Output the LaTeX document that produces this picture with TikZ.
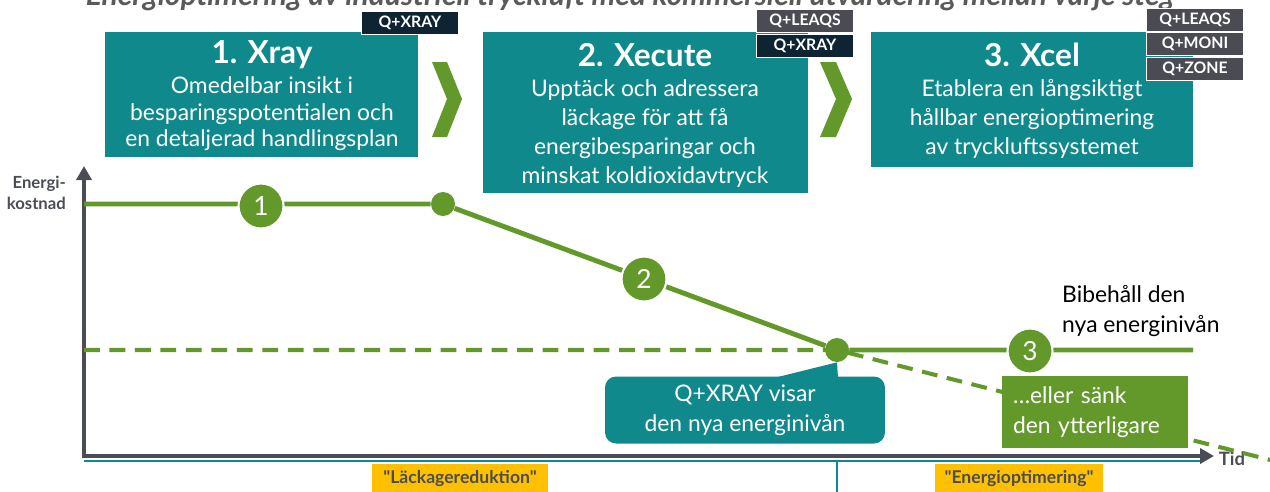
\documentclass[tikz,border=0pt]{standalone}
\usepackage{fontspec}
\setmainfont{Lato}[Ligatures=TeXOff]
\usetikzlibrary{arrows.meta,calc,positioning}

\definecolor{xteal}{HTML}{0F898C}
\definecolor{xgreen}{HTML}{63982A}
\definecolor{xnavy}{HTML}{0E2433}
\definecolor{xgray}{HTML}{4B4B53}
\definecolor{xaxis}{HTML}{4A4D55}
\definecolor{xyellow}{HTML}{FFC000}
\definecolor{xtitle}{HTML}{5A5A5A}

\begin{document}
\begin{tikzpicture}[x=0.02cm, y=-0.02cm,
  stepbox/.style={fill=xteal, anchor=north west, inner sep=0pt},
  head/.style={text=white, font=\fontsize{18}{21}\selectfont\bfseries},
  body/.style={text=white, align=center, font=\fontsize{13}{16.5}\selectfont},
  tag/.style={fill=#1, draw=white, line width=1pt, text=white, minimum width=1.94cm,
    minimum height=0.46cm, inner sep=0pt, font=\fontsize{9}{10}\selectfont\bfseries},
  chev/.style={fill=xgreen},
  curve/.style={draw=xgreen, line width=2.8pt},
  goal/.style={draw=xgreen, line width=2.3pt, dash pattern=on 9pt off 5.5pt},
  dot/.style={circle, fill=xgreen, minimum size=0.48cm, inner sep=0pt},
  num/.style={circle, fill=xgreen, draw=white, line width=1.2pt, minimum size=0.9cm,
    inner sep=0pt, text=white, font=\fontsize{15}{18}\selectfont},
  axis/.style={draw=xaxis, line width=2.2pt},
  note/.style={text=white, font=\fontsize{13}{17}\selectfont},
  phase/.style={fill=xyellow, text=xaxis, minimum height=0.6cm, inner sep=0pt,
    font=\fontsize{10}{11}\selectfont\bfseries},
  ]
  \useasboundingbox (0,0) rectangle (1270,491);

  % title, cut by the top edge
  \node[anchor=base, text=xtitle, font=\fontsize{17}{19}\selectfont\bfseries\itshape] (title) at (630,5)
    {Energioptimering av industriell tryckluft med kommersiell utvärdering mellan varje steg};

  % the three steps
  \node[stepbox, minimum width=6.26cm, minimum height=2.5cm] (s1) at (105,32) {};
  \node[stepbox, minimum width=6.5cm, minimum height=3.22cm] (s2) at (483,32) {};
  \node[stepbox, minimum width=6.44cm, minimum height=2.7cm] (s3) at (871,32) {};

  \node[head] (h1) at (262,55) {1. Xray};
  \node[body, font=\fontsize{13}{15}\selectfont] (b1) at (262,114)
    {Omedelbar insikt i\\besparingspotentialen och\\en detaljerad handlingsplan};
  \node[head] (h2) at (645,55) {2. Xecute};
  \node[body] (b2) at (645,134)
    {Upptäck och adressera\\läckage för att få\\energibesparingar och\\minskat koldioxidavtryck};
  \node[head] (h3) at (1032,55) {3. Xcel};
  \node[body] (b3) at (1032,119)
    {Etablera en långsiktigt\\hållbar energioptimering\\av tryckluftssystemet};

  % products
  \node[tag=xnavy] (t1) at (410,23) {Q+XRAY};
  \node[tag=xgray] (t2a) at (805,21) {Q+LEAQS};
  \node[tag=xnavy] (t2b) at (805,46) {Q+XRAY};
  \node[tag=xgray] (t3a) at (1195,20) {Q+LEAQS};
  \node[tag=xgray] (t3b) at (1195,44) {Q+MONI};
  \node[tag=xgray] (t3c) at (1195,69) {Q+ZONE};

  % chevrons
  \fill[chev] (432,62) -- (447,62) -- (462,99) -- (447,137) -- (432,137) -- (447,99) -- cycle;
  \fill[chev] (820,62) -- (836,62) -- (852,99) -- (836,137) -- (820,137) -- (836,99) -- cycle;

  % axes
  \coordinate (origin) at (84,456);
  \coordinate (ytop) at (84,166);
  \coordinate (xend) at (1214,456);
  \coordinate (tl) at (84,461);
  \coordinate (tr) at (1200,461);
  \coordinate (split) at (837,461);
  \coordinate (splitlow) at (837,495);
  \draw[xteal, line width=1.2pt] (tl) -- (tr);
  \draw[xteal, line width=1.2pt] (split) -- (splitlow);
  \draw[axis, {Triangle[length=0.28cm, width=0.3cm]}-{Triangle[length=0.28cm, width=0.3cm]}]
    (ytop) -- (origin) -- (xend);
  \node[anchor=east, align=right, text=xaxis, font=\fontsize{9.5}{12}\selectfont\bfseries] (ylab) at (72,193)
    {Energi-\\kostnad};
  \node[text=xaxis, font=\fontsize{10.5}{12}\selectfont\bfseries] (xlab) at (1232,459) {Tid};

  % energy levels
  \coordinate (start) at (84,204);
  \coordinate (base) at (84,350);
  \coordinate (stop) at (1193,350);
  \coordinate (far) at (1310,470);
  \node[dot] (dot1) at (443,204) {};
  \node[dot] (dot2) at (837,350) {};
  \draw[goal] (base) -- (dot2.center) -- (far);
  \draw[curve] (start) -- (dot1) -- (dot2) -- (stop);
  \node[num] (n1) at (261,206) {1};
  \node[num] (n2) at (644,279) {2};
  \node[num] (n3) at (1030,351) {3};

  % notes
  \node[fill=xteal, rounded corners=0.22cm, minimum width=5.6cm, minimum height=1.34cm,
    align=center, note] (info) at (745,410) {Q+XRAY visar\\den nya energinivån};
  \fill[xteal] ($(info.north)+(28,2)$) -- (dot2.south) -- ($(info.north)+(93,2)$) -- cycle;
  \node[fill=xgreen, minimum width=3.72cm, minimum height=1.4cm, inner sep=0.22cm,
    text width=3.28cm, align=left, note] (lower) at (1095,412) {…eller sänk\\den ytterligare};
  \node[anchor=west, align=left, font=\fontsize{13}{17}\selectfont] (keep) at (1056,311)
    {Bibehåll den\\nya energinivån};

  % phases
  \node[phase, minimum width=3.52cm] (p1) at (460,479) {"Läckagereduktion"};
  \node[phase, minimum width=3.36cm] (p2) at (1019,479) {"Energioptimering"};
\end{tikzpicture}
\end{document}
